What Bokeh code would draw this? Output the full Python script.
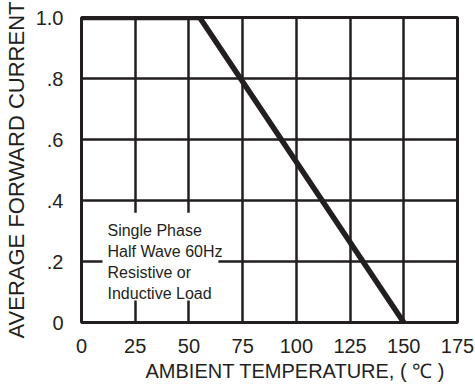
from bokeh.plotting import figure
from bokeh.models import Range1d, FixedTicker, Title
from bokeh.core.properties import value
from bokeh.embed import file_html
from bokeh.resources import INLINE

# data
temp = [0, 55, 150]
current = [1.0, 1.0, 0.0]
x_ticks = [0, 25, 50, 75, 100, 125, 150, 175]
y_ticks = [0, 0.2, 0.4, 0.6, 0.8, 1.0]
y_tick_labels = ["0", ".2", ".4", ".6", ".8", "1.0"]
note_lines = ["Single Phase", "Half Wave 60Hz", "Resistive or", "Inductive Load"]
x_title = "AMBIENT TEMPERATURE, ( \u2103 )"
y_title = "AVERAGE FORWARD CURRENT"

INK = "#231f20"
FONT = "Liberation Sans"

p = figure(width=475, height=388, output_backend="svg", toolbar_location=None,
           x_range=Range1d(0, 175), y_range=Range1d(0, 1.0),
           min_border_left=81, min_border_right=18, min_border_top=17, min_border_bottom=66)
p.background_fill_color = "white"
p.border_fill_color = "white"
p.outline_line_color = INK
p.outline_line_width = 3

p.xaxis.ticker = FixedTicker(ticks=x_ticks)
p.yaxis.ticker = FixedTicker(ticks=y_ticks)
p.yaxis.major_label_overrides = {t: l for t, l in zip(y_ticks, y_tick_labels)}
for ax in (p.xaxis[0], p.yaxis[0]):
    ax.axis_line_color = None
    ax.major_tick_line_color = None
    ax.minor_tick_line_color = None
    ax.major_label_text_font = FONT
    ax.major_label_text_font_size = "20px"
    ax.major_label_text_color = INK
p.xaxis.major_label_standoff = 10
p.yaxis.major_label_standoff = 12

p.yaxis.axis_label = y_title
p.yaxis.axis_label_text_font = FONT
p.yaxis.axis_label_text_font_size = "22px"
p.yaxis.axis_label_text_font_style = "normal"
p.yaxis.axis_label_text_color = INK
p.yaxis.axis_label_standoff = 4

p.add_layout(Title(text=x_title, align="left", offset=64, text_font=FONT,
                   text_font_size="20px", text_font_style="normal",
                   text_color=INK, standoff=4), "below")

for g in (p.xgrid[0], p.ygrid[0]):
    g.grid_line_color = INK
    g.grid_line_width = 2.5
    g.grid_line_alpha = 1.0

# white box behind note
p.quad(left=[9.8], right=[63.7], bottom=[0.072], top=[0.36],
       fill_color="white", line_color=None)

# curve
p.line(temp, current, line_color=INK, line_width=5.5, line_join="miter")

# note text
base_y = 0.302
step = 0.069
p.text(x=[12.1] * len(note_lines), y=[base_y - i * step for i in range(len(note_lines))],
       text=note_lines, text_font=value(FONT), text_font_size="16px",
       text_color=INK, text_baseline="alphabetic", text_align="left")

open("out.html", "w").write(file_html(p, INLINE))
